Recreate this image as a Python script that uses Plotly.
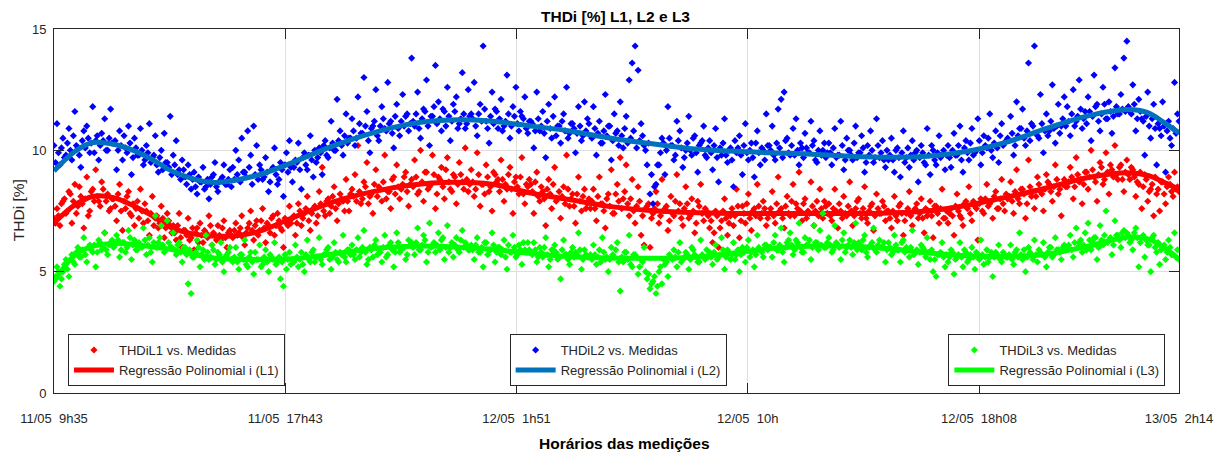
import numpy as np
import plotly.graph_objects as go

# ---------------- data ----------------
# measurements are stored as two interleaved sets (a: odd samples, b: even samples)
thdi_l1_a = [
    7.2, 7.6, 6.9, 7.9, 7.4, 8.3, 7.0, 8.6, 7.7, 8.1, 6.8, 8.9, 7.5, 8.4, 9.2, 7.9, 8.7, 6.6, 8.2, 7.6,
    8.0, 7.1, 8.6, 6.7, 7.6, 8.3, 7.3, 6.9, 7.9, 8.4, 7.0, 7.5, 6.5, 8.1, 7.2, 6.8, 7.7, 6.4, 7.4, 6.9,
    6.9, 6.3, 7.4, 6.0, 6.7, 7.2, 6.4, 5.9, 6.8, 7.0, 6.2, 6.6, 7.3, 6.1, 6.5, 6.9, 6.3, 7.1, 6.0, 6.7,
    6.4, 7.0, 6.6, 7.3, 6.1, 6.8, 7.5, 6.3, 7.1, 6.7, 7.6, 6.2, 6.9, 7.2, 6.5, 7.4, 6.8, 6.0, 7.0, 7.7,
    7.2, 6.5, 7.8, 6.9, 7.4, 8.1, 6.7, 7.6, 7.0, 8.3, 9.3, 7.3, 8.0, 7.7, 8.5, 7.1, 8.2, 7.9, 8.8, 7.5,
    8.4, 9.0, 10.2, 7.8, 8.7, 9.5, 8.1, 7.4, 9.2, 8.5, 7.9, 9.8, 8.3, 7.6, 8.9, 9.4, 8.0, 8.6, 9.1, 7.7,
    8.8, 9.6, 8.2, 10.0, 7.9, 9.1, 8.5, 9.8, 7.6, 8.9, 9.3, 8.0, 9.7, 8.4, 9.0, 7.8, 9.5, 8.7, 10.1, 8.3,
    9.2, 8.1, 9.9, 7.7, 8.6, 9.4, 8.3, 7.5, 9.0, 8.8, 9.6, 7.9, 8.4, 9.3, 7.4, 8.9, 8.2, 9.7, 7.8, 8.5,
    8.6, 7.4, 9.1, 7.9, 8.3, 6.9, 8.8, 7.6, 9.3, 8.0, 7.2, 8.5, 9.8, 7.7, 8.2, 7.0, 8.9, 7.5, 8.4, 7.8,
    7.6, 8.4, 7.1, 8.9, 7.8, 6.8, 8.2, 9.2, 7.4, 8.6, 9.7, 8.0, 9.4, 7.3, 8.8, 7.0, 8.5, 6.5, 6.1, 7.7,
    6.0, 7.4, 8.3, 7.0, 8.8, 7.6, 6.7, 8.1, 7.3, 9.0, 7.8, 6.9, 8.5, 7.2, 8.0, 6.6, 7.9, 8.6, 7.1, 7.5,
    6.8, 6.2, 7.5, 6.0, 7.1, 8.0, 6.5, 7.3, 6.9, 8.4, 6.4, 7.7, 7.0, 8.2, 6.7, 7.6, 8.6, 7.2, 7.9, 6.9,
    7.4, 8.3, 7.0, 8.9, 7.6, 6.8, 8.1, 7.3, 8.6, 7.8, 9.1, 7.1, 8.0, 7.5, 8.7, 6.9, 7.9, 8.4, 7.2, 7.7,
    7.8, 7.1, 8.4, 6.8, 7.5, 8.1, 7.3, 8.7, 6.9, 7.6, 8.0, 7.2, 8.5, 7.0, 7.7, 6.7, 8.2, 7.4, 7.9, 7.1,
    7.5, 6.8, 8.1, 7.1, 7.8, 6.5, 7.4, 8.3, 6.9, 7.6, 7.2, 8.0, 6.6, 7.3, 7.9, 6.4, 7.7, 7.0, 8.4, 7.2,
    7.0, 7.6, 6.5, 8.2, 7.3, 6.9, 7.9, 8.5, 7.1, 7.7, 6.3, 8.0, 7.4, 8.6, 7.8, 7.2, 8.3, 7.6, 8.8, 7.5,
    8.0, 8.7, 7.4, 9.2, 7.8, 8.4, 7.2, 9.6, 8.1, 7.6, 8.9, 8.3, 7.5, 9.0, 8.6, 7.9, 9.4, 8.2, 7.3, 8.8,
    8.5, 9.3, 8.0, 9.7, 8.7, 7.8, 9.1, 8.4, 10.0, 8.9, 7.9, 9.5, 8.6, 9.9, 8.2, 9.2, 10.2, 8.8, 9.4, 8.3,
    9.6, 8.8, 9.2, 8.1, 8.6, 7.6, 9.0, 7.9, 8.4, 7.3, 8.2, 7.5, 8.7, 7.8, 8.9, 8.3, 9.1, 8.5,
]
thdi_l1_b = [
    7.0, 7.3, 7.8, 8.0, 7.5, 8.2, 7.9, 7.4, 8.5, 7.8, 8.0, 7.3, 8.3, 7.9, 8.1, 7.7, 8.4, 7.9, 7.5, 8.0,
    7.7, 8.2, 7.5, 7.9, 8.1, 7.4, 7.8, 7.6, 7.2, 7.5, 7.8, 7.1, 7.4, 6.9, 7.3, 7.0, 7.2, 6.8, 7.1, 6.6,
    6.6, 6.9, 6.4, 6.7, 6.5, 6.3, 6.8, 6.6, 6.2, 6.5, 6.7, 6.4, 6.9, 6.6, 6.3, 6.5, 6.8, 6.4, 6.6, 6.5,
    6.7, 6.5, 6.8, 6.4, 6.6, 7.0, 6.7, 6.9, 6.5, 7.1, 6.8, 7.0, 6.6, 7.3, 6.9, 7.1, 6.7, 7.2, 6.9, 7.0,
    7.3, 7.0, 7.5, 7.2, 7.6, 7.1, 7.4, 7.7, 7.3, 7.8, 7.5, 7.9, 7.4, 8.1, 7.6, 7.8, 8.0, 7.5, 7.9, 8.2,
    8.1, 7.9, 8.3, 8.0, 8.5, 7.8, 8.2, 8.6, 8.1, 8.4, 8.7, 8.0, 8.3, 8.8, 8.2, 8.5, 8.4, 8.9, 8.3, 8.6,
    8.5, 8.9, 8.3, 8.7, 9.1, 8.4, 8.6, 9.0, 8.2, 8.8, 8.5, 9.2, 8.7, 8.3, 8.9, 8.6, 9.0, 8.4, 8.8, 8.6,
    8.7, 8.4, 9.0, 8.6, 8.2, 8.9, 8.5, 9.1, 8.7, 8.3, 8.8, 8.6, 9.0, 8.4, 8.7, 8.5, 8.9, 8.2, 8.6, 8.8,
    8.3, 8.7, 8.1, 8.5, 8.0, 8.4, 8.2, 8.6, 7.9, 8.3, 8.1, 7.8, 8.4, 8.0, 7.7, 8.2, 7.9, 8.1, 7.6, 8.0,
    7.9, 7.6, 8.1, 7.8, 7.5, 8.0, 7.7, 7.4, 8.2, 7.9, 7.6, 8.3, 7.8, 8.0, 7.5, 7.7, 7.9, 7.3, 7.6, 7.8,
    7.2, 7.6, 7.8, 7.3, 7.5, 7.7, 7.1, 7.4, 7.9, 7.5, 7.2, 7.6, 7.8, 7.3, 7.5, 7.0, 7.7, 7.4, 7.6, 7.3,
    7.1, 6.6, 7.3, 6.8, 7.5, 7.2, 7.0, 7.6, 7.3, 7.7, 7.1, 7.4, 7.8, 7.2, 7.5, 7.3, 7.7, 7.4, 7.6, 7.2,
    7.6, 7.3, 7.8, 7.5, 7.2, 7.7, 7.4, 7.9, 7.3, 7.6, 7.5, 7.8, 7.2, 7.4, 7.7, 7.5, 7.3, 7.6, 7.9, 7.4,
    7.3, 7.6, 7.5, 7.8, 7.2, 7.4, 7.7, 7.5, 7.3, 7.9, 7.4, 7.6, 7.2, 7.5, 7.8, 7.3, 7.6, 7.4, 7.7, 7.5,
    7.2, 7.5, 7.3, 7.7, 7.4, 7.1, 7.6, 7.3, 7.5, 7.8, 7.4, 7.2, 7.6, 7.5, 7.3, 7.7, 7.4, 7.6, 7.2, 7.5,
    7.4, 7.3, 7.7, 7.5, 7.2, 7.8, 7.6, 7.4, 7.9, 7.6, 7.8, 7.5, 8.0, 7.7, 7.9, 8.1, 7.6, 8.0, 7.8, 8.2,
    8.1, 7.9, 8.3, 8.0, 8.4, 8.2, 7.8, 8.5, 8.3, 8.1, 8.6, 8.2, 8.4, 8.7, 8.3, 8.5, 8.8, 8.4, 8.6, 8.5,
    8.7, 8.9, 8.5, 9.0, 8.8, 8.6, 9.1, 8.9, 9.2, 8.7, 9.0, 9.3, 8.8, 9.1, 9.4, 8.9, 9.0, 9.3, 8.8, 9.1,
    9.0, 9.3, 8.9, 8.7, 9.1, 8.5, 8.8, 8.3, 8.6, 8.9, 8.4, 8.7, 8.2, 8.5, 8.6, 8.1, 8.4, 8.3,
]

thdi_l2_a = [
    10.2, 11.1, 9.4, 10.5, 9.8, 10.9, 9.6, 11.6, 10.1, 9.3, 10.8, 11.0, 9.9, 11.8, 10.4, 9.6, 10.7, 11.3, 10.0, 11.7,
    10.3, 9.2, 10.8, 9.6, 10.1, 11.0, 9.0, 10.5, 9.8, 10.9, 9.4, 10.2, 11.1, 9.7, 10.6, 9.1, 10.0, 10.7, 9.5, 11.4,
    9.8, 10.4, 9.2, 9.6, 8.9, 9.4, 8.4, 9.1, 8.2, 8.7, 9.3, 8.5, 8.0, 8.9, 9.5, 8.3, 8.8, 9.4, 8.6, 9.2,
    9.3, 10.0, 9.6, 10.5, 9.1, 10.8, 9.8, 11.0, 10.2, 9.4, 8.8, 9.7, 8.3, 9.2, 10.1, 8.6, 9.5, 8.1, 9.9, 10.4,
    8.7, 9.6, 10.3, 8.4, 9.9, 9.2, 10.6, 8.9, 9.5, 10.1, 9.0, 10.4, 9.7, 11.2, 10.0, 12.1, 10.8, 9.8, 11.5, 10.5,
    11.3, 10.2, 12.2, 10.7, 13.0, 11.6, 9.9, 11.0, 12.5, 10.4, 11.8, 10.9, 12.8, 11.2, 10.1, 11.9, 10.6, 12.3, 11.4, 10.8,
    13.8, 11.0, 12.4, 10.5, 11.7, 12.9, 10.2, 11.4, 13.5, 12.0, 10.8, 11.6, 12.6, 10.4, 11.9, 12.2, 11.1, 13.2, 10.9, 12.5,
    11.5, 12.8, 10.6, 11.9, 14.3, 11.2, 10.3, 12.4, 11.7, 10.9, 12.1, 11.0, 13.1, 10.5, 11.8, 12.6, 10.8, 11.4, 12.2, 10.7,
    11.2, 10.1, 12.4, 10.8, 11.6, 9.7, 11.9, 10.5, 12.2, 11.0, 10.3, 11.5, 12.6, 10.7, 11.1, 9.9, 11.8, 10.4, 12.0, 11.3,
    10.6, 11.8, 9.8, 11.2, 10.3, 12.3, 11.0, 9.6, 11.5, 10.8, 12.0, 10.1, 11.4, 12.9, 13.6, 14.3, 13.3, 11.1, 10.2, 9.4,
    8.2, 7.8, 8.6, 9.4, 10.5, 9.0, 11.8, 10.2, 9.6, 11.2, 10.8, 9.3, 10.0, 11.4, 9.8, 10.6, 9.1, 10.3, 11.0, 9.7,
    10.4, 9.2, 10.9, 8.7, 9.8, 11.3, 9.5, 10.1, 8.5, 9.9, 10.6, 9.0, 11.1, 9.6, 10.3, 8.9, 10.8, 9.4, 10.0, 11.5,
    10.2, 11.0, 9.6, 11.7, 12.1, 12.4, 10.5, 9.8, 10.9, 11.3, 9.4, 10.1, 10.7, 9.9, 11.2, 10.4, 9.5, 10.8, 10.0, 9.7,
    10.3, 9.4, 10.9, 9.8, 11.2, 9.2, 10.5, 10.0, 9.6, 11.0, 9.9, 10.6, 9.1, 10.2, 10.8, 9.5, 11.3, 9.7, 10.4, 9.3,
    9.6, 10.5, 9.1, 10.1, 8.9, 10.8, 9.7, 9.3, 10.4, 9.9, 8.7, 10.2, 9.5, 10.9, 9.0, 10.0, 9.4, 10.6, 9.8, 9.2,
    10.2, 9.3, 10.7, 9.8, 11.0, 9.1, 10.4, 9.6, 10.9, 9.9, 11.3, 9.4, 10.6, 10.1, 11.5, 9.7, 10.8, 9.5, 11.1, 10.3,
    10.5, 11.4, 9.8, 12.0, 10.9, 11.7, 10.2, 13.6, 11.1, 14.3, 10.6, 12.3, 9.9, 11.5, 10.8, 12.7, 10.3, 11.9, 11.0, 12.2,
    11.8, 10.6, 12.5, 11.2, 12.9, 10.9, 11.6, 12.2, 10.4, 13.1, 11.9, 10.8, 12.6, 11.3, 12.0, 10.7, 13.4, 11.5, 12.3, 13.8,
    14.5, 11.6, 12.7, 10.8, 12.1, 11.3, 9.8, 12.4, 10.5, 11.9, 9.4, 10.9, 12.0, 9.1, 11.2, 10.2, 12.8, 11.5,
]
thdi_l2_b = [
    9.5, 9.9, 10.1, 9.7, 10.3, 10.0, 10.6, 10.2, 9.8, 10.4, 10.1, 10.5, 10.3, 9.9, 10.6, 10.2, 10.4, 10.0, 10.5, 10.3,
    10.4, 10.0, 10.2, 10.6, 9.9, 10.3, 9.7, 10.1, 9.8, 10.0, 9.6, 9.9, 9.5, 9.8, 9.4, 9.7, 9.2, 9.5, 9.3, 9.0,
    9.4, 9.0, 8.8, 9.2, 8.6, 9.0, 8.8, 8.5, 8.9, 8.7, 8.4, 8.8, 8.6, 9.0, 8.5, 8.7, 8.9, 8.6, 8.8, 8.5,
    8.8, 9.0, 8.7, 9.1, 8.9, 9.3, 8.6, 9.0, 8.8, 9.2, 8.9, 9.1, 8.7, 9.3, 9.0, 8.8, 9.2, 9.4, 9.1, 9.3,
    9.3, 9.5, 9.2, 9.7, 9.4, 9.8, 9.6, 10.0, 9.7, 9.9, 10.2, 9.8, 10.1, 10.3, 10.0, 10.4, 10.2, 10.6, 10.3, 10.5,
    10.8, 10.5, 11.1, 10.7, 11.0, 10.4, 10.9, 11.2, 10.6, 11.0, 11.3, 10.8, 11.1, 10.7, 11.4, 10.9, 11.2, 11.0, 11.5, 11.1,
    11.2, 11.5, 10.9, 11.3, 11.6, 11.0, 11.4, 11.8, 11.1, 11.3, 11.7, 11.0, 11.4, 11.2, 11.6, 10.9, 11.3, 11.5, 11.1, 11.4,
    11.3, 11.0, 11.5, 11.2, 11.7, 10.9, 11.4, 11.1, 11.6, 11.3, 10.8, 11.2, 11.5, 11.0, 11.4, 11.1, 11.6, 11.3, 10.9, 11.2,
    11.1, 10.8, 11.3, 11.0, 10.7, 11.2, 10.9, 11.4, 10.6, 11.0, 11.2, 10.8, 10.5, 11.1, 10.9, 10.7, 11.0, 10.6, 10.8, 11.1,
    10.5, 10.9, 10.7, 10.3, 10.8, 10.6, 11.0, 10.4, 10.7, 10.2, 10.6, 10.9, 10.3, 10.5, 10.8, 10.1, 10.4, 10.6, 10.0, 10.3,
    9.0, 8.5, 9.4, 9.9, 10.3, 10.0, 10.5, 10.2, 9.8, 10.4, 10.1, 9.7, 10.3, 10.0, 10.5, 9.9, 10.2, 10.4, 9.8, 10.1,
    9.9, 10.2, 9.7, 10.1, 10.3, 9.8, 10.0, 9.6, 10.4, 10.1, 9.8, 10.2, 9.9, 10.0, 9.7, 10.3, 9.9, 10.1, 9.6, 10.2,
    10.0, 9.8, 10.3, 10.1, 9.7, 10.4, 9.9, 10.2, 9.8, 10.0, 10.3, 9.7, 10.1, 9.9, 10.2, 9.6, 10.0, 9.8, 10.3, 9.9,
    9.9, 10.1, 9.7, 9.8, 10.2, 9.6, 10.0, 9.8, 10.3, 9.7, 9.9, 10.1, 9.5, 9.8, 10.0, 9.7, 10.2, 9.9, 9.6, 10.0,
    9.8, 9.6, 10.0, 9.7, 9.9, 9.5, 10.1, 9.8, 9.6, 10.0, 9.7, 9.9, 9.4, 9.8, 10.2, 9.6, 9.9, 9.7, 10.0, 9.8,
    9.7, 10.0, 9.8, 10.2, 9.6, 10.1, 9.9, 10.3, 9.8, 10.0, 10.4, 9.9, 10.2, 10.5, 10.0, 10.3, 10.1, 10.6, 10.2, 10.4,
    10.4, 10.7, 10.2, 10.6, 10.9, 10.5, 10.8, 10.4, 11.0, 10.7, 10.5, 11.1, 10.8, 10.6, 11.2, 10.9, 11.0, 10.7, 11.3, 11.0,
    11.2, 11.5, 11.0, 11.4, 11.7, 11.3, 11.1, 11.6, 11.4, 11.8, 11.2, 11.5, 11.9, 11.3, 11.6, 11.4, 11.8, 11.5, 11.7, 11.6,
    11.8, 11.5, 11.9, 11.3, 11.6, 11.2, 11.4, 11.0, 11.3, 10.9, 11.1, 10.6, 11.0, 10.8, 10.5, 10.9, 10.7, 11.2,
]

thdi_l3_a = [
    4.6, 5.2, 4.4, 5.0, 5.5, 4.8, 5.7, 5.3, 6.0, 5.6, 6.4, 5.4, 6.1, 5.8, 5.2, 6.3, 5.9, 6.6, 5.7, 6.2,
    6.0, 6.5, 5.6, 6.2, 5.8, 6.7, 5.5, 6.3, 5.9, 6.1, 6.8, 5.7, 6.4, 5.4, 7.3, 6.2, 6.9, 5.8, 7.1, 6.0,
    6.6, 5.7, 6.2, 5.4, 6.0, 4.5, 4.1, 5.6, 6.3, 5.2, 5.9, 6.5, 5.5, 6.1, 5.3, 5.8, 6.2, 5.0, 5.7, 6.0,
    5.4, 6.0, 5.1, 5.7, 6.3, 5.2, 5.8, 4.9, 5.5, 6.1, 5.3, 5.9, 5.0, 5.6, 6.2, 5.4, 4.7, 4.4, 5.1, 5.8,
    5.5, 6.1, 5.2, 5.8, 5.0, 6.3, 5.4, 5.9, 5.6, 6.4, 5.3, 5.7, 6.0, 5.1, 6.2, 5.5, 5.8, 6.5, 5.4, 5.9,
    6.1, 5.5, 6.4, 5.8, 6.7, 5.3, 6.0, 5.6, 6.3, 5.9, 5.4, 6.5, 5.7, 6.2, 5.2, 6.6, 5.8, 6.0, 5.5, 6.3,
    6.2, 5.7, 6.8, 5.9, 6.5, 5.4, 7.0, 6.1, 5.8, 6.6, 6.3, 5.5, 6.9, 6.0, 5.6, 6.4, 5.8, 6.7, 6.2, 5.9,
    6.1, 5.5, 6.4, 5.8, 5.2, 6.2, 5.9, 6.6, 5.4, 6.0, 5.7, 6.3, 5.1, 5.8, 6.5, 5.6, 6.1, 5.3, 5.9, 6.2,
    5.8, 6.2, 5.4, 6.0, 5.6, 6.4, 5.2, 5.9, 6.1, 5.5, 4.7, 6.3, 5.7, 5.3, 6.0, 5.8, 6.6, 5.1, 5.9, 5.6,
    5.7, 6.1, 5.3, 5.9, 6.4, 5.5, 5.0, 6.0, 5.6, 6.2, 4.2, 5.4, 5.8, 6.5, 5.2, 5.7, 4.9, 5.5, 6.0, 4.7,
    4.3, 4.6, 4.1, 5.0, 4.5, 5.3, 4.8, 5.6, 5.9, 5.2, 6.2, 5.5, 5.8, 5.1, 6.0, 5.7, 5.4, 6.3, 5.6, 5.9,
    5.8, 5.3, 6.1, 5.6, 6.4, 5.1, 5.9, 5.5, 6.2, 5.7, 5.0, 6.0, 5.4, 6.3, 5.8, 5.2, 6.5, 5.9, 5.6, 6.1,
    6.0, 5.6, 6.5, 5.9, 6.8, 5.4, 6.2, 6.6, 5.7, 6.3, 7.0, 5.8, 6.4, 6.1, 5.5, 6.9, 6.2, 6.7, 7.4, 6.0,
    6.4, 5.8, 6.9, 6.1, 5.5, 6.6, 6.0, 6.3, 5.7, 7.0, 6.2, 5.9, 6.5, 5.6, 6.1, 6.8, 5.8, 6.3, 6.0, 5.4,
    6.2, 5.7, 6.5, 5.9, 5.4, 6.3, 6.0, 5.6, 6.7, 5.8, 5.3, 6.1, 5.9, 6.4, 5.5, 5.0, 4.8, 5.7, 6.2, 5.2,
    5.4, 5.9, 4.9, 5.6, 6.2, 5.2, 5.8, 5.5, 6.0, 5.1, 5.7, 6.3, 5.3, 5.9, 5.6, 4.8, 5.8, 6.1, 5.4, 5.7,
    5.6, 6.1, 5.3, 5.9, 6.6, 5.5, 5.0, 6.0, 5.7, 6.3, 5.4, 5.8, 6.2, 5.2, 6.0, 5.6, 6.4, 5.9, 5.5, 6.1,
    6.0, 6.5, 5.6, 6.8, 6.2, 5.8, 6.6, 7.0, 5.9, 6.4, 5.5, 6.9, 6.1, 7.5, 6.3, 5.7, 7.1, 6.5, 6.0, 6.7,
    6.6, 6.2, 5.9, 6.8, 5.2, 6.4, 5.6, 6.1, 5.0, 6.5, 5.8, 5.3, 6.0, 5.5, 6.3, 5.7, 6.6, 5.9,
]
thdi_l3_b = [
    4.8, 5.0, 4.7, 5.3, 5.1, 5.5, 5.4, 5.8, 5.6, 5.9, 5.7, 6.0, 5.9, 6.1, 5.8, 6.2, 6.0, 5.9, 6.1, 6.3,
    6.1, 6.3, 5.9, 6.2, 6.0, 6.4, 6.1, 5.9, 6.2, 6.0, 6.3, 6.1, 5.8, 6.2, 6.0, 6.4, 6.1, 5.9, 6.2, 6.0,
    5.9, 6.1, 5.8, 6.0, 5.7, 5.9, 5.6, 5.8, 6.0, 5.7, 5.5, 5.8, 5.6, 5.9, 5.5, 5.7, 5.4, 5.6, 5.8, 5.5,
    5.6, 5.4, 5.7, 5.5, 5.3, 5.6, 5.4, 5.8, 5.5, 5.2, 5.6, 5.4, 5.7, 5.5, 5.3, 5.6, 5.4, 5.7, 5.5, 5.3,
    5.4, 5.6, 5.5, 5.3, 5.7, 5.5, 5.8, 5.4, 5.6, 5.5, 5.7, 5.9, 5.5, 5.6, 5.8, 5.4, 5.7, 5.6, 5.9, 5.7,
    5.7, 5.9, 5.6, 6.0, 5.8, 5.5, 5.9, 6.1, 5.7, 5.8, 6.0, 5.6, 6.1, 5.9, 5.8, 6.2, 5.9, 6.0, 5.7, 6.1,
    6.0, 6.2, 5.9, 6.1, 6.3, 5.8, 6.0, 6.2, 6.1, 5.9, 6.4, 6.0, 5.8, 6.2, 6.1, 5.9, 6.3, 6.0, 6.1, 5.9,
    5.9, 6.1, 5.8, 6.0, 6.2, 5.7, 5.9, 6.1, 5.8, 6.0, 5.9, 5.6, 6.1, 5.8, 6.0, 5.7, 5.9, 6.2, 5.8, 5.9,
    5.7, 5.9, 5.6, 5.8, 6.0, 5.7, 5.5, 5.9, 5.8, 5.6, 5.9, 5.7, 5.5, 5.8, 5.6, 5.7, 5.9, 5.5, 5.7, 5.6,
    5.5, 5.7, 5.6, 5.4, 5.8, 5.6, 5.5, 5.7, 5.9, 5.4, 5.6, 5.8, 5.5, 5.3, 5.7, 5.6, 5.2, 5.4, 5.0, 4.9,
    4.5, 4.8, 4.4, 5.2, 5.5, 5.4, 5.7, 5.5, 5.6, 5.8, 5.4, 5.6, 5.7, 5.5, 5.9, 5.6, 5.4, 5.7, 5.5, 5.6,
    5.6, 5.8, 5.5, 5.7, 5.9, 5.6, 5.8, 5.7, 5.5, 5.9, 5.7, 5.8, 6.0, 5.6, 5.9, 5.7, 6.0, 5.8, 6.1, 5.9,
    6.0, 6.2, 5.9, 6.1, 5.8, 6.0, 6.3, 6.1, 5.9, 6.2, 6.0, 5.8, 6.1, 6.3, 6.0, 6.2, 5.9, 6.1, 6.0, 6.2,
    6.1, 5.9, 6.2, 6.0, 6.3, 5.8, 6.1, 6.0, 6.2, 5.9, 6.1, 6.3, 5.8, 6.0, 6.2, 5.9, 6.1, 6.0, 6.2, 5.9,
    6.0, 5.8, 6.1, 5.9, 6.2, 5.8, 5.9, 6.0, 5.7, 5.9, 5.8, 6.0, 5.6, 5.8, 5.9, 5.5, 5.7, 5.8, 5.6, 5.7,
    5.6, 5.8, 5.5, 5.7, 5.6, 5.9, 5.4, 5.7, 5.6, 5.8, 5.5, 5.7, 5.6, 5.4, 5.8, 5.6, 5.7, 5.5, 5.8, 5.6,
    5.7, 5.5, 5.8, 5.6, 5.7, 5.9, 5.6, 5.8, 5.5, 5.7, 5.9, 5.7, 5.6, 5.8, 6.0, 5.7, 5.9, 5.8, 6.0, 5.9,
    6.1, 5.9, 6.2, 6.0, 6.3, 6.1, 5.9, 6.3, 6.2, 6.4, 6.0, 6.3, 6.5, 6.2, 6.4, 6.1, 6.5, 6.3, 6.6, 6.4,
    6.5, 6.3, 6.6, 6.4, 6.2, 6.5, 6.3, 6.1, 6.4, 6.0, 6.2, 5.9, 6.1, 5.8, 6.0, 5.7, 5.6, 5.5,
]

reg_idx = [0, 14, 26, 40, 54, 66, 80, 106, 134, 160, 186, 214, 240, 266, 294, 320, 346, 374,
           400, 426, 454, 480, 506, 534, 560, 586, 614, 640, 666, 694, 720, 734, 746, 755]
reg_l1 = [7.0, 7.75, 8.1, 8.05, 7.7, 7.3, 6.78, 6.47, 6.6, 7.22, 7.85, 8.3, 8.57, 8.68, 8.6, 8.24,
          7.97, 7.68, 7.52, 7.44, 7.4, 7.4, 7.4, 7.4, 7.42, 7.5, 7.75, 8.08, 8.45, 8.88, 9.08, 8.97, 8.65, 8.4]
reg_l2 = [9.15, 9.95, 10.32, 10.25, 9.98, 9.62, 9.12, 8.68, 8.93, 9.5, 10.15, 10.72, 11.1, 11.25, 11.2, 11.0,
          10.8, 10.5, 10.28, 10.08, 9.97, 9.9, 9.85, 9.76, 9.72, 9.76, 9.97, 10.35, 10.9, 11.42, 11.68, 11.55, 11.1, 10.72]
reg_l3 = [4.6, 5.68, 6.05, 6.16, 6.12, 6.02, 5.9, 5.57, 5.5, 5.53, 5.72, 5.95, 6.05, 6.03, 5.92, 5.75,
          5.62, 5.56, 5.55, 5.58, 5.75, 5.95, 6.05, 6.05, 5.95, 5.78, 5.65, 5.63, 5.72, 6.05, 6.42, 6.35, 5.95, 5.5]

tick_idx = [0, 155.2, 310.4, 465.6, 620.8, 755]
tick_labels = ["11/05\u00a0\u00a09h35", "11/05\u00a0\u00a017h43", "12/05\u00a0\u00a01h51",
               "12/05\u00a0\u00a010h", "12/05\u00a0\u00a018h08", "13/05\u00a0\u00a02h14"]


def interleave(a, b):
    return [v for pair in zip(a, b) for v in pair]


thdi_l1 = interleave(thdi_l1_a, thdi_l1_b)
thdi_l2 = interleave(thdi_l2_a, thdi_l2_b)
thdi_l3 = interleave(thdi_l3_a, thdi_l3_b)
medidas = np.arange(len(thdi_l1))

FONT = "Liberation Sans, Arial, Helvetica, sans-serif"
DARK = "#262626"

fig = go.Figure()

series = [
    (thdi_l1, reg_l1, "#FF0000", "#FF0000", "THDiL1 vs. Medidas", "Regressão Polinomial i (L1)", "legend"),
    (thdi_l2, reg_l2, "#0000FF", "#0072BD", "THDiL2 vs. Medidas", "Regressão Polinomial i (L2)", "legend2"),
    (thdi_l3, reg_l3, "#00FF00", "#00FF00", "THDiL3 vs. Medidas", "Regressão Polinomial i (L3)", "legend3"),
]
for vals, reg, mcol, lcol, mname, lname, leg in series:
    fig.add_trace(go.Scatter(
        x=medidas, y=vals, mode="markers", name=mname, legend=leg,
        marker=dict(symbol="diamond", size=5.5, color=mcol, line=dict(width=0)),
    ))
    fig.add_trace(go.Scatter(
        x=reg_idx, y=reg, mode="lines", name=lname, legend=leg,
        line=dict(color=lcol, width=5, shape="spline", smoothing=1.0),
    ))

axis_common = dict(
    showline=True, linecolor=DARK, linewidth=1, mirror="ticks",
    ticks="inside", ticklen=10, tickcolor=DARK, tickwidth=1,
    showgrid=True, gridcolor="#DFDFDF", gridwidth=1, zeroline=False,
    tickfont=dict(family=FONT, size=13, color=DARK),
)
fig.update_xaxes(range=[0, 755], tickmode="array", tickvals=tick_idx, ticktext=tick_labels,
                 ticklabelstandoff=13, **axis_common)
fig.update_yaxes(range=[0, 15], tickmode="array", tickvals=[0, 5, 10, 15],
                 ticklabelstandoff=4, **axis_common)

leg_common = dict(
    yanchor="top", y=0.162, xanchor="left",
    bgcolor="white", bordercolor=DARK, borderwidth=1,
    font=dict(family=FONT, size=13, color=DARK),
    itemwidth=40, tracegroupgap=0,
)
fig.update_layout(
    width=1225, height=452,
    margin=dict(l=54, r=40, t=29, b=59),
    paper_bgcolor="white", plot_bgcolor="white",
    showlegend=True,
    legend=dict(x=0.0124, **leg_common),
    legend2=dict(x=0.405, **leg_common),
    legend3=dict(x=0.795, **leg_common),
    annotations=[
        dict(text="<b>THDi [%] L1, L2 e L3</b>", xref="paper", yref="paper", x=0.4987, y=1.0357,
             showarrow=False, xanchor="center", yanchor="middle",
             font=dict(family=FONT, size=15.5, color="#000000")),
        dict(text="<b>Horários das medições</b>", xref="paper", yref="paper", x=0.5075, y=-0.1374,
             showarrow=False, xanchor="center", yanchor="middle",
             font=dict(family=FONT, size=15.5, color="#000000")),
        dict(text="THDi [%]", xref="paper", yref="paper", x=-0.0309, y=0.503, textangle=-90,
             showarrow=False, xanchor="center", yanchor="middle",
             font=dict(family=FONT, size=15.5, color=DARK)),
    ],
)

fig.write_html("out.html")
